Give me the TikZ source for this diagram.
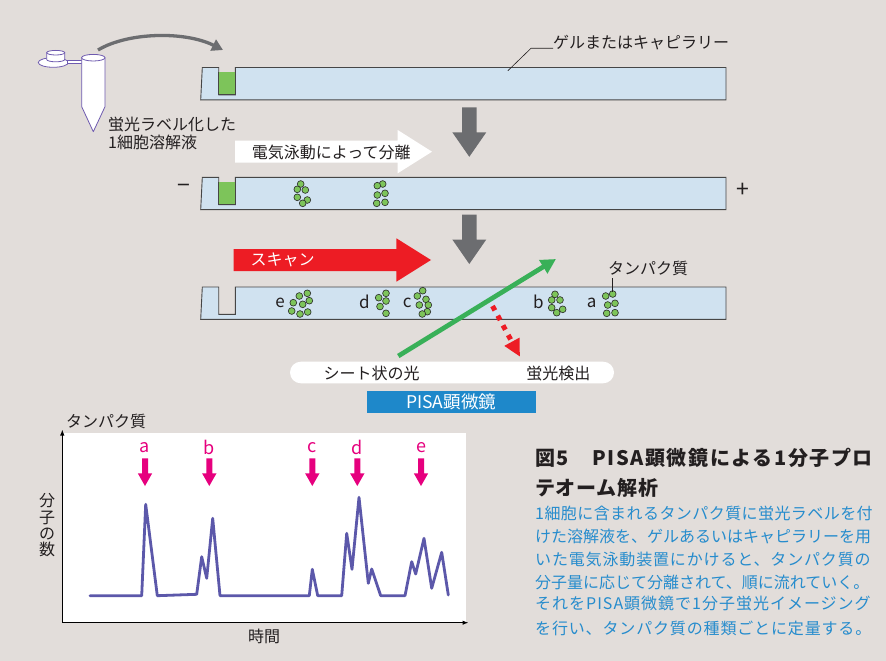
\documentclass[tikz,border=0pt]{standalone}
\usepackage{fontspec}
\setmainfont{Noto Sans CJK JP}
\usetikzlibrary{arrows.meta}

\definecolor{bgcol}{RGB}{226,221,218}
\definecolor{gelfill}{RGB}{208,226,240}
\definecolor{geledge}{RGB}{70,70,70}
\definecolor{wellgreen}{RGB}{125,196,90}
\definecolor{beadgreen}{RGB}{125,196,90}
\definecolor{beadedge}{RGB}{40,40,40}
\definecolor{arrowgray}{RGB}{108,109,112}
\definecolor{scanred}{RGB}{237,28,36}
\definecolor{lightgreen}{RGB}{57,176,88}
\definecolor{markpink}{RGB}{230,0,126}
\definecolor{tracecol}{RGB}{92,88,170}
\definecolor{pisablue}{RGB}{30,136,202}
\definecolor{capblue}{RGB}{38,140,205}
\definecolor{inktext}{RGB}{35,31,32}
\definecolor{tubepurple}{RGB}{110,90,175}

\newcommand\setfs[1]{\fontsize{#1}{#1}\selectfont}

\tikzset{
  txt/.style={font=\setfs{16}, text=inktext, inner sep=0pt},
  lane/.style={font=\setfs{17}, text=inktext, inner sep=0pt},
  peak/.style={font=\setfs{18}, text=markpink, inner sep=0pt},
  captxt/.style={font=\setfs{16}, text=capblue, inner sep=0pt, anchor=west},
  gelbody/.style={fill=gelfill, draw=geledge, line width=0.9},
  bead/.style={fill=beadgreen, draw=beadedge, line width=0.6},
  tube/.style={draw=tubepurple, fill=white, line width=0.8},
  gel/.pic={
    \path[gelbody] (2.3,0) -- (18.7,0) -- (18.7,27.3) -- (35.3,27.3) -- (35.3,0)
      -- (526,0) -- (526,32.3) -- (0.7,32.3) -- cycle;
  },
  gel loaded/.pic={
    \path[gelbody] (2.3,0) -- (18.7,0) -- (18.7,27.3) -- (35.3,27.3) -- (35.3,0)
      -- (526,0) -- (526,32.3) -- (0.7,32.3) -- cycle;
    \fill[wellgreen] (18.7,5) rectangle (35.3,27.3);
    \draw[geledge, line width=0.9] (18.7,5) -- (18.7,27.3) -- (35.3,27.3) -- (35.3,5);
  },
  down arrow/.pic={
    \fill[arrowgray] (-7.3,0) -- (7.3,0) -- (7.3,25) -- (17,25) -- (0,49.5)
      -- (-17,25) -- (-7.3,25) -- cycle;
  },
  peak arrow/.pic={
    \fill[markpink] (-3,0) -- (3,0) -- (3,15) -- (7.2,15) -- (0,27.7)
      -- (-7.2,15) -- (-3,15) -- cycle;
  }
}

\begin{document}
\begin{tikzpicture}[x=1pt,y=-1pt]
\useasboundingbox (0,0) rectangle (886,661);
\fill[bgcol] (0,0) rectangle (886,661);

% ---- sample tube with its cap
\path[tube] (53.3,62.5) ellipse [x radius=15, y radius=4.8];
\path[tube] (46.7,52.7) -- (46.7,59.5) arc [start angle=180, end angle=0, x radius=9, y radius=2.3] -- (64.7,52.7) -- cycle;
\path[tube] (55.7,52.7) ellipse [x radius=9, y radius=2.3];
\path[tube] (67.5,60.8) rectangle (82,63.3);
\path[tube, line join=round] (81.7,57.7) -- (81.7,106.7) -- (93.3,131.7) -- (105,106.7) -- (105,57.7) -- cycle;
\path[tube] (93.3,57.7) ellipse [x radius=11.7, y radius=3.3];

\node[txt, anchor=west] (lysate1) at (108,124.3) {蛍光ラベル化した};
\node[txt, anchor=west] (lysate2) at (108,142.5) {1細胞溶解液};

% ---- loading arrow
\coordinate (pour start) at (98,50);
\coordinate (pour end) at (223,50);
\draw[arrowgray, line width=3.3, -{Triangle[length=11pt, width=12pt]}]
  (pour start) .. controls (128,32) and (185,31) .. (pour end);

% ---- gels
\pic at (200,67.5) {gel loaded};
\pic at (200,177.3) {gel loaded};
\pic at (200,287) {gel};

% gel label with leader
\node[txt, anchor=west] (gellabel) at (553,42.8) {ゲルまたはキャピラリー};
\coordinate (gelpoint) at (507.9,70.7);
\draw[inktext, line width=0.6] (gelpoint) -- (531,48.3) -- (gellabel.west |- 0,48.3);

% ---- step arrows
\pic at (469.3,107.3) {down arrow};
\pic at (469.3,214.5) {down arrow};

% electrophoresis arrow (white)
\fill[white] (235,140.7) -- (397.7,140.7) -- (397.7,130) -- (432,151.7) -- (397.7,173.3) -- (397.7,162.7) -- (235,162.7) -- cycle;
\node[txt] (ephor) at (331.3,152.3) {電気泳動によって分離};

% scan arrow (red)
\fill[scanred] (233.6,249) -- (396.4,249) -- (396.4,238.3) -- (431,260) -- (396.4,281.7) -- (396.4,271) -- (233.6,271) -- cycle;
\node[txt, text=white] (scan) at (282.7,260) {スキャン};

% electrode signs
\node[txt, font=\setfs{23}] (minus) at (183.5,189) {−};
\node[txt, font=\setfs{23}] (plus) at (743,190) {+};

% ---- bands in the middle gel
\foreach \x/\y in {300.7/184, 297.3/189.3, 305.3/190, 297.3/197.3, 307.3/200, 302.7/203.3,
                   382.7/184, 377.3/185.7, 385/193.3, 377.3/195, 385/202.3, 376.7/203.3}
  \draw[bead] (\x,\y) circle [radius=3.4];

% ---- bands in the scanned gel
\foreach \x/\y in {307.3/293.3, 299.3/296, 309.3/300.7, 293.3/302.7, 302.7/304.3, 291.7/311, 300/314, 307.7/312,
                   386/293.3, 378.7/297.7, 386/301, 380/306.5, 386/313.3,
                   422.7/290.7, 417.3/296, 426/299.3, 419.3/305, 428.3/305, 427.3/311.7, 422.3/314,
                   555/294.3, 551.7/300, 560/300, 551.7/307.7, 556.7/312.7, 562.7/309.3,
                   612.7/294, 605.7/296, 615/303.3, 607.7/305, 615/312.7, 606.7/313.3}
  \draw[bead] (\x,\y) circle [radius=3.4];

\node[lane] (band e) at (280,302.5) {e};
\node[lane] (band d) at (364.3,301.5) {d};
\node[lane] (band c) at (407.3,302.5) {c};
\node[lane] (band b) at (538.3,301.5) {b};
\node[lane] (band a) at (591.7,303) {a};

% protein label with leader
\node[txt] (protlabel) at (648,268.3) {タンパク質};
\coordinate (protpoint) at (612.7,292);
\draw[inktext, line width=0.6] (protpoint) -- (612.7,278);

% ---- light sheet and detection
\coordinate (light start) at (398.3,356);
\coordinate (light end) at (556,259);
\draw[lightgreen, line width=4.7, -{Triangle[length=15pt, width=15pt]}] (light start) -- (light end);

\coordinate (emit start) at (492.5,306);
\coordinate (emit end) at (520,356.7);
\draw[scanred, line width=5, dash pattern=on 5pt off 6pt, -{Triangle[length=17pt, width=16pt]}] (emit start) -- (emit end);

% ---- microscope labels
\fill[white, rounded corners=10.8] (290,361.7) rectangle (614,383.3);
\node[txt] (sheet) at (371.6,373.3) {シート状の光};
\node[txt] (detect) at (558.3,373.3) {蛍光検出};
\node[fill=pisablue, minimum width=169, minimum height=21.7, inner sep=0pt,
      font=\setfs{17.5}, text=white] (pisa) at (451.2,401.9) {PISA顕微鏡};

% ---- graph
\fill[white] (61.7,433) rectangle (466,622.7);
\coordinate (origin) at (62.3,622.7);
\draw[black, line width=1.1, -{Latex[length=6pt, width=4.5pt]}] (origin) -- (62.3,429.5);
\draw[black, line width=1.1, -{Latex[length=6pt, width=4.5pt]}] (origin) -- (468.5,622.7);

\node[txt] (ylabel top) at (106,421) {タンパク質};
\node[txt, align=center, font=\fontsize{16}{16.3}\selectfont] (ylabel) at (47,525.5) {分\\子\\の\\数};
\node[txt] (xlabel) at (264,636) {時間};

\draw[tracecol, line width=2.8, line join=round, line cap=round]
  (90,595.7) -- (141.7,595.7) -- (145.7,504.3) -- (157.3,595.7) -- (196.7,594.3)
  -- (201.7,556.7) -- (206.7,578.3) -- (212.7,518.3) -- (220,595.7) -- (309.3,595.7)
  -- (312.3,569.3) -- (317.7,595.7) -- (341.7,595.7) -- (346.7,533.3) -- (352,569.3)
  -- (359,497.3) -- (368.3,583.3) -- (371.7,569) -- (380.7,595.7) -- (405,595.7)
  -- (411.7,561.7) -- (415.7,574) -- (424,538.3) -- (431.7,588.3) -- (441.7,552.3)
  -- (448.3,595);

\foreach \x/\n in {145/a, 209.3/b, 312.3/c, 357.3/d, 421/e} {
  \node[peak] (peak \n) at (\x,447.5) {\n};
  \pic at (\x,458.3) {peak arrow};
}

% ---- caption
\node[font=\bfseries\setfs{20}\addfontfeature{LetterSpace=8}, text=inktext, inner sep=0pt, anchor=west]
  (title1) at (535,458) {図5　PISA顕微鏡による1分子プロ};
\node[font=\bfseries\setfs{20}\addfontfeature{LetterSpace=4}, text=inktext, inner sep=0pt, anchor=west]
  (title2) at (535,487.5) {テオーム解析};

\node[captxt, font=\setfs{16}\addfontfeature{LetterSpace=2.7}] (cap1) at (535,513.3) {1細胞に含まれるタンパク質に蛍光ラベルを付};
\node[captxt] (cap2) at (535,536) {けた溶解液を、ゲルあるいはキャピラリーを用};
\node[captxt, font=\setfs{16}\addfontfeature{LetterSpace=5.3}] (cap3) at (535,559) {いた電気泳動装置にかけると、タンパク質の};
\node[captxt] (cap4) at (535,582) {分子量に応じて分離されて、順に流れていく。};
\node[captxt, font=\setfs{16}\addfontfeature{LetterSpace=6.2}] (cap5) at (535,604) {それをPISA顕微鏡で1分子蛍光イメージング};
\node[captxt, font=\setfs{16}\addfontfeature{LetterSpace=5.3}] (cap6) at (535,628) {を行い、タンパク質の種類ごとに定量する。};

\end{tikzpicture}
\end{document}
